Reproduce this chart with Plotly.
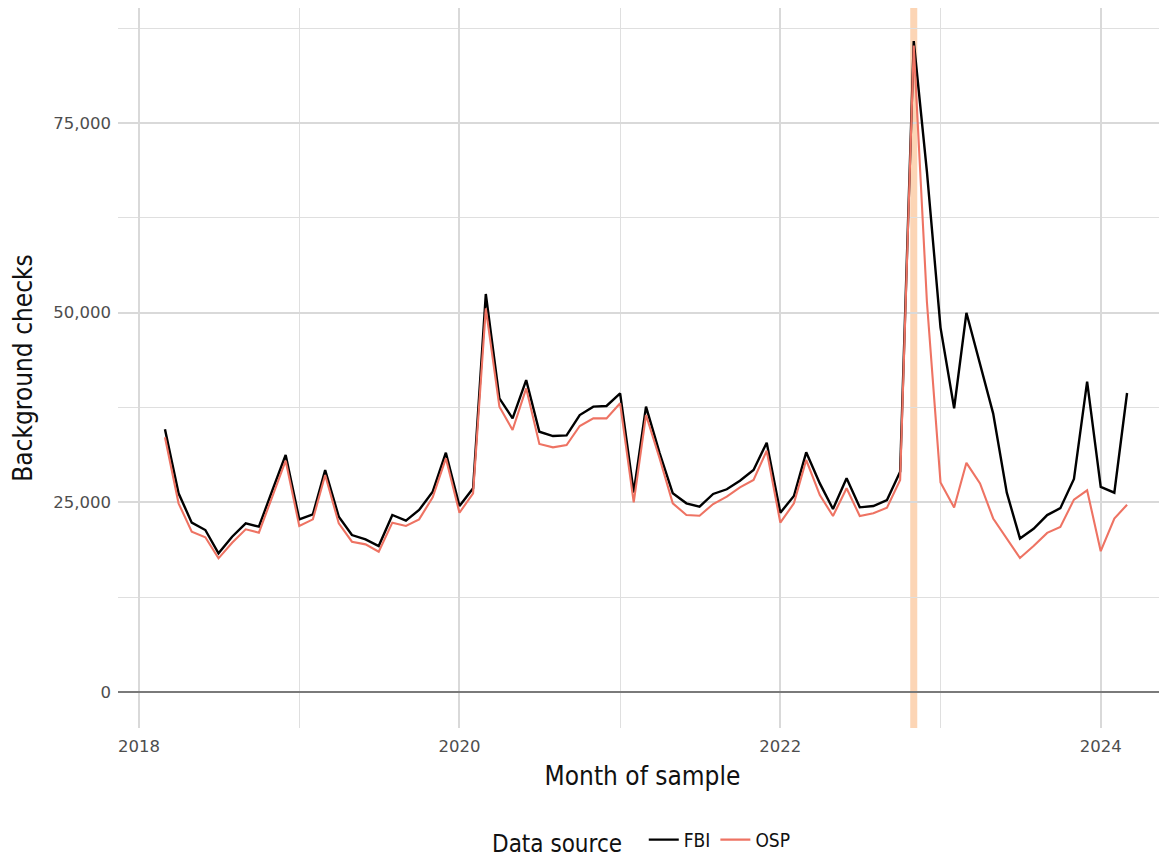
import pandas as pd
import plotly.graph_objects as go

months = pd.date_range("2018-03-01", "2024-03-01", freq="MS")

fbi = [34620, 26190, 22320, 21350, 18280, 20470, 22230, 21790, 26620, 31240,
       22760, 23420, 29260, 23110, 20690, 20120, 19240, 23330, 22580, 23990,
       26400, 31540, 24510, 26850, 52460, 38700, 36070, 41120, 34310, 33740,
       33830, 36510, 37610, 37700, 39370, 26300, 37610, 31500, 26190, 24870,
       24420, 26100, 26720, 27850, 29260, 32860, 23630, 25830, 31590, 27500,
       24120, 28160, 24340, 24510, 25310, 29040, 85800, 68600, 48030, 37400,
       49980, 43270, 36700, 26270, 20240, 21510, 23320, 24230, 28080, 40910,
       27040, 26270, 39410]

osp = [33570, 24870, 21130, 20390, 17620, 19680, 21440, 21000, 25830, 30490,
       21880, 22760, 28600, 22230, 19810, 19460, 18490, 22320, 21880, 22760,
       25650, 30800, 23630, 26190, 50570, 37610, 34530, 40020, 32690, 32250,
       32550, 35060, 36070, 36070, 38050, 25000, 36510, 30800, 24870, 23330,
       23240, 24780, 25740, 26980, 27940, 31800, 22320, 24870, 30580, 25960,
       23200, 26850, 23200, 23550, 24290, 27940, 85200, 51400, 27630, 24320,
       30210, 27490, 22870, 20150, 17660, 19240, 20970, 21740, 25360, 26590,
       18560, 22870, 24680]

highlight_month = "2022-11-01"
series_names = ["FBI", "OSP"]
series_colors = ["#000000", "#EE7363"]

fig = go.Figure()
for name, vals, col in zip(series_names, [fbi, osp], series_colors):
    fig.add_trace(go.Scatter(x=months, y=vals, mode="lines", name=name,
                             line=dict(color=col, width=2.4 if name == "FBI" else 2.1)))

fig.add_shape(type="line", xref="x", yref="paper", x0=highlight_month, x1=highlight_month,
              y0=0, y1=1, line=dict(color="rgba(250,178,120,0.55)", width=7), layer="below")

tick_font = dict(family="DejaVu Sans, sans-serif", size=16.5, color="#4d4d4d")
cond = "Liberation Sans Narrow, DejaVu Sans Condensed, sans-serif"
title_font = dict(family=cond, size=26, color="#111111")

fig.update_layout(
    width=1159, height=851,
    margin=dict(l=110, r=0, t=0, b=131, autoexpand=False),
    plot_bgcolor="white", paper_bgcolor="white",
    showlegend=True,
    legend=dict(orientation="h", x=0.5, xanchor="center", y=-0.158, yanchor="middle",
                title=dict(text="Data source  ", font=dict(family=cond, size=24, color="#111111"), side="left"),
                font=dict(family=cond, size=19, color="#111111"),
                itemwidth=30, valign="middle"),
)

fig.update_xaxes(
    range=["2017-11-14", "2024-05-31"],
    tickformat="%Y", dtick="M24", tick0="2018-01-01",
    showgrid=True, gridcolor="#d9d9d9", gridwidth=2,
    minor=dict(dtick="M12", tick0="2018-01-01", showgrid=True, gridcolor="#dfdfdf", gridwidth=1.2),
    tickfont=tick_font, ticks="", showline=False, zeroline=False, automargin=False,
    ticklabelstandoff=6,
    title=dict(text="Month of sample", font=title_font, standoff=12),
)
fig.update_yaxes(
    range=[-4745, 90157],
    tickvals=[0, 25000, 50000, 75000], tickformat=",d",
    showgrid=True, gridcolor="#d9d9d9", gridwidth=2,
    minor=dict(tickvals=[12500, 37500, 62500, 87500], showgrid=True, gridcolor="#dfdfdf", gridwidth=1.2),
    zeroline=True, zerolinecolor="#7a7a7a", zerolinewidth=1.5,
    tickfont=tick_font, ticks="", showline=False, automargin=False,
    ticklabelstandoff=6,
    title=dict(text="Background checks", font=title_font, standoff=14),
)

fig.write_html("out.html")
